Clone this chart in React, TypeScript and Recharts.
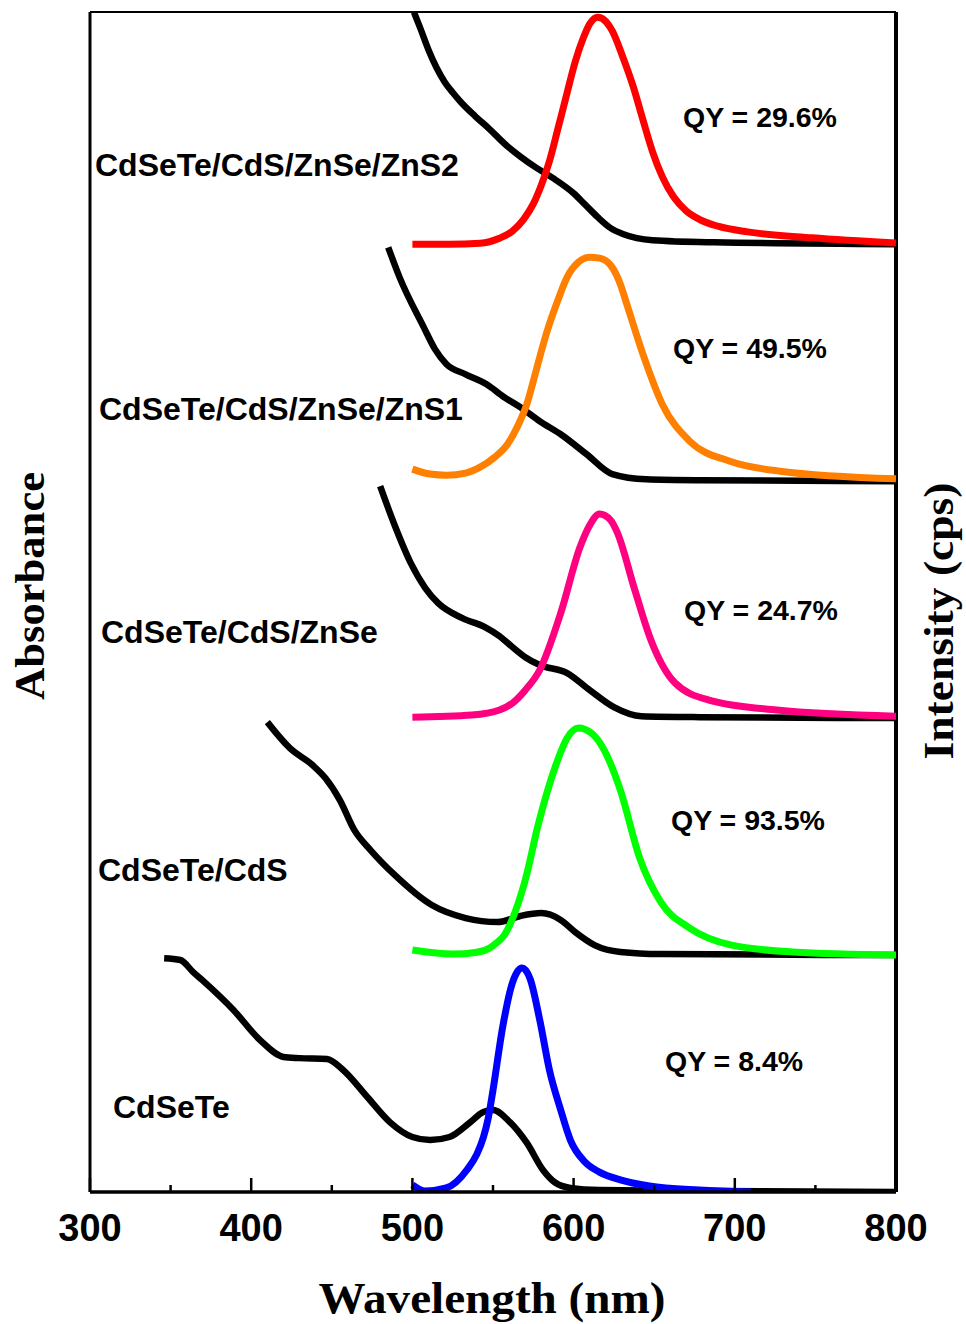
import React from 'react';
import { LineChart, Line, XAxis, YAxis, ReferenceLine } from 'recharts';

// wavelength (nm) vs. normalised signal within each stacked panel (0..1)
const ABS_CDSETE: [number, number][] = [
  [346, 0.987], [356, 0.979], [364, 0.928], [369.5, 0.895], [389, 0.768], [405.5, 0.641],
  [420, 0.57], [430, 0.565], [447, 0.561], [457, 0.515], [472, 0.401], [486, 0.295],
  [500, 0.232], [511, 0.219], [523, 0.232], [536, 0.295], [544, 0.338], [550, 0.346],
  [560.5, 0.295], [571, 0.207], [581, 0.093], [588.5, 0.04], [598, 0.017], [616, 0.008],
  [680, 0.004], [800, 0],
];
const PL_CDSETE: [number, number][] = [
  [500, 0.03], [508, 0.004], [521, 0.017], [534, 0.095], [540, 0.16], [544, 0.23],
  [547, 0.31], [550, 0.43], [556, 0.696], [562, 0.882], [568, 0.945], [573, 0.9],
  [579, 0.726], [585, 0.515], [592, 0.346], [598, 0.219], [607, 0.127], [616, 0.084],
  [629, 0.051], [647, 0.025], [678, 0.008], [710, 0],
];

const ABS_CDS: [number, number][] = [
  [410, 0.983], [424, 0.873], [438, 0.802], [446, 0.747], [455, 0.654], [464, 0.527],
  [474, 0.443], [489, 0.338], [512, 0.211], [533, 0.156], [553, 0.139], [567, 0.165],
  [580, 0.177], [592, 0.148], [601, 0.097], [613, 0.042], [629, 0.013], [654, 0.004],
  [800, 0],
];
const PL_CDS: [number, number][] = [
  [500, 0.021], [525, 0.004], [540, 0.012], [548, 0.03], [552, 0.05], [557, 0.084],
  [563, 0.169], [570, 0.316], [578, 0.549], [589, 0.802], [596, 0.916], [603, 0.958],
  [611, 0.937], [619, 0.865], [629, 0.696], [641, 0.409], [654, 0.224], [672, 0.114],
  [698, 0.042], [736, 0.013], [800, 0],
];

const ABS_ZNSE: [number, number][] = [
  [480, 0.979], [489, 0.814], [499, 0.654], [508, 0.549], [516, 0.485], [531, 0.422],
  [545, 0.384], [554, 0.346], [562, 0.3], [570, 0.257], [579, 0.224], [596, 0.19],
  [610, 0.118], [625, 0.046], [642, 0.008], [678, 0.004], [800, 0],
];
const PL_ZNSE: [number, number][] = [
  [500, 0.004], [537, 0.013], [554, 0.034], [562, 0.063], [570, 0.118], [579, 0.203],
  [592, 0.443], [604, 0.722], [610, 0.814], [616, 0.861], [623, 0.835], [627, 0.785],
  [638, 0.54], [648, 0.329], [663, 0.148], [684, 0.076], [726, 0.034], [800, 0.008],
];

const ABS_ZNS1: [number, number][] = [
  [485, 0.987], [492, 0.861], [507, 0.65], [514, 0.557], [521, 0.494], [533, 0.451],
  [546, 0.409], [557, 0.354], [567, 0.312], [579, 0.253], [592, 0.198], [608, 0.114],
  [624, 0.03], [645, 0.008], [678, 0.004], [800, 0],
];
const PL_ZNS1: [number, number][] = [
  [500, 0.051], [511, 0.03], [521, 0.025], [533, 0.034], [542, 0.059], [551, 0.101],
  [559, 0.156], [565, 0.228], [571, 0.325], [577, 0.473], [583, 0.62], [590, 0.759],
  [596, 0.861], [603, 0.924], [610, 0.945], [616, 0.941], [623, 0.911], [629, 0.831],
  [633, 0.747], [643, 0.536], [655, 0.325], [672, 0.169], [697, 0.084], [728, 0.042],
  [800, 0.01],
];

const ABS_ZNS2: [number, number][] = [
  [501, 0.979], [505, 0.91], [510, 0.82], [515, 0.745], [520, 0.685], [525, 0.64],
  [530, 0.6], [539, 0.54], [548, 0.485], [557, 0.425], [567, 0.37], [577, 0.322],
  [587, 0.28], [600, 0.215], [607, 0.168], [615, 0.114], [623, 0.068], [631, 0.042],
  [649, 0.017], [687, 0.008], [800, 0],
];
const PL_ZNS2: [number, number][] = [
  [500, 0], [523, 0], [542, 0.004], [554, 0.025], [562, 0.055], [569, 0.105],
  [575, 0.17], [580, 0.25], [585, 0.35], [590, 0.48], [596, 0.64], [601, 0.77],
  [606, 0.87], [610, 0.93], [615, 0.958], [620, 0.94], [624, 0.9], [630, 0.8],
  [637, 0.665], [643, 0.525], [649, 0.39], [655, 0.285], [662, 0.2], [670, 0.14],
  [678, 0.105], [690, 0.075], [708, 0.052], [748, 0.027], [800, 0.005],
];

const SAMPLES = ['CdSeTe', 'CdSeTe/CdS', 'CdSeTe/CdS/ZnSe', 'CdSeTe/CdS/ZnSe/ZnS1', 'CdSeTe/CdS/ZnSe/ZnS2'];
const QY = ['8.4%', '93.5%', '24.7%', '49.5%', '29.6%'];
const ABS = [ABS_CDSETE, ABS_CDS, ABS_ZNSE, ABS_ZNS1, ABS_ZNS2];
const PL = [PL_CDSETE, PL_CDS, PL_ZNSE, PL_ZNS1, PL_ZNS2];
const PL_COLORS = ['#0000ff', '#00ff00', '#ff0080', '#ff8000', '#ff0000'];
const X_TICKS = [300, 350, 400, 450, 500, 550, 600, 650, 700, 750, 800];
const Y_MAX = 4.98;

const W = 966;
const H = 1324;
const SANS = '"Liberation Sans", Arial, sans-serif';
const SERIF = '"Liberation Serif", "Times New Roman", serif';

const toPoints = (pts: [number, number][], offset: number) =>
  pts.map(([wl, v]) => ({ wl, v: v + offset }));

const BottomTick = (props: any) => {
  const { x, y, payload } = props;
  const major = payload.value % 100 === 0;
  return (
    <g>
      <line x1={x} x2={x} y1={y} y2={y - (major ? 14 : 7)} stroke="#000" strokeWidth={2.5} />
      {major && (
        <text x={x} y={y + 49} textAnchor="middle" fontFamily={SANS} fontWeight="bold" fontSize={38} fill="#000">
          {payload.value}
        </text>
      )}
    </g>
  );
};

const TopTick = (props: any) => {
  const { x, y } = props;
  return <line x1={x} x2={x} y1={y} y2={y + 5} stroke="#000" strokeWidth={1.5} />;
};

// label positions (left x, baseline y) for each panel
const SAMPLE_POS = [
  [113, 1118],
  [98, 881],
  [101, 643],
  [99, 420],
  [95, 176],
];
const QY_POS = [
  [665, 1071],
  [671, 830],
  [684, 620],
  [673, 358],
  [683, 127],
];

export default function App() {
  return (
    <div style={{ position: 'absolute', left: 0, top: 0, width: W, height: H, background: '#fff' }}>
      <LineChart width={W} height={H} margin={{ top: 11, right: 70, bottom: 72, left: 90 }}>
        <XAxis
          dataKey="wl"
          type="number"
          domain={[300, 800]}
          ticks={X_TICKS}
          height={60}
          tickSize={0}
          tickMargin={0}
          tickLine={false}
          axisLine={{ stroke: '#000', strokeWidth: 3.5 }}
          tick={<BottomTick />}
          interval={0}
        />
        <XAxis
          xAxisId="top"
          orientation="top"
          dataKey="wl"
          type="number"
          domain={[300, 800]}
          ticks={X_TICKS}
          height={1}
          tickSize={0}
          tickMargin={0}
          tickLine={false}
          axisLine={false}
          tick={<TopTick />}
          interval={0}
        />
        <YAxis yAxisId="L" domain={[0, Y_MAX]} hide allowDataOverflow />
        <ReferenceLine yAxisId="L" x={300} stroke="#000" strokeWidth={3} />
        <ReferenceLine yAxisId="L" x={800} stroke="#000" strokeWidth={4} />
        <ReferenceLine yAxisId="L" y={Y_MAX} stroke="#000" strokeWidth={2} />
        {ABS.map((pts, i) => (
          <Line
            key={'abs' + i}
            yAxisId="L"
            data={toPoints(pts, i)}
            dataKey="v"
            type="monotone"
            stroke="#000"
            strokeWidth={6.5}
            dot={false}
            isAnimationActive={false}
          />
        ))}
        {PL.map((pts, i) => (
          <Line
            key={'pl' + i}
            yAxisId="L"
            data={toPoints(pts, i)}
            dataKey="v"
            type="monotone"
            stroke={PL_COLORS[i]}
            strokeWidth={7}
            dot={false}
            isAnimationActive={false}
          />
        ))}
      </LineChart>
      <svg
        width={W}
        height={H}
        style={{ position: 'absolute', left: 0, top: 0, pointerEvents: 'none' }}
      >
        {SAMPLES.map((s, i) => (
          <text key={s} x={SAMPLE_POS[i][0]} y={SAMPLE_POS[i][1]} fontFamily={SANS} fontWeight="bold" fontSize={32} fill="#000">
            {s}
          </text>
        ))}
        {QY.map((q, i) => (
          <text key={q} x={QY_POS[i][0]} y={QY_POS[i][1]} fontFamily={SANS} fontWeight="bold" fontSize={28.5} fill="#000">
            {'QY = ' + q}
          </text>
        ))}
        <text
          x={492}
          y={1313}
          textAnchor="middle"
          fontFamily={SERIF}
          fontWeight="bold"
          fontSize={44}
          textLength={347}
          lengthAdjust="spacingAndGlyphs"
          fill="#000"
        >
          Wavelength (nm)
        </text>
        <text
          x={0}
          y={0}
          transform="translate(44 586) rotate(-90)"
          textAnchor="middle"
          fontFamily={SERIF}
          fontWeight="bold"
          fontSize={42}
          textLength={228}
          lengthAdjust="spacingAndGlyphs"
          fill="#000"
        >
          Absorbance
        </text>
        <text
          x={0}
          y={0}
          transform="translate(953 621) rotate(-90)"
          textAnchor="middle"
          fontFamily={SERIF}
          fontWeight="bold"
          fontSize={42}
          textLength={277}
          lengthAdjust="spacingAndGlyphs"
          fill="#000"
        >
          Intensity (cps)
        </text>
      </svg>
    </div>
  );
}
